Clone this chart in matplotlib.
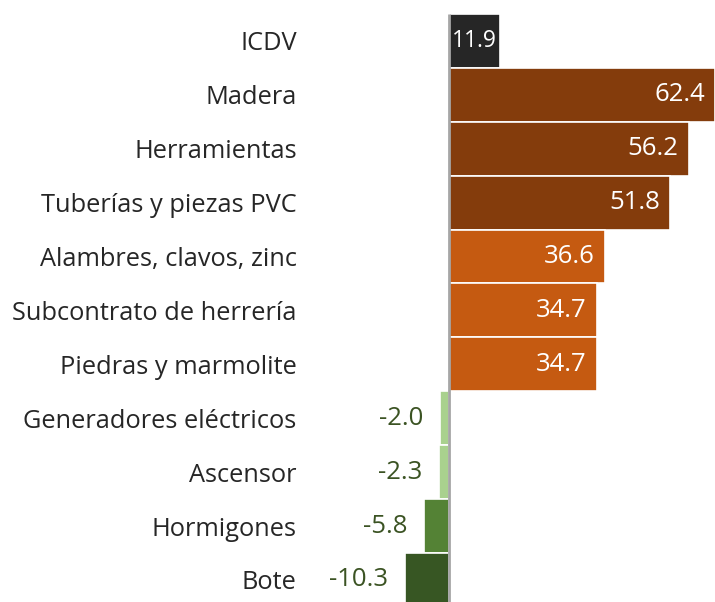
import matplotlib
matplotlib.use("Agg")
import matplotlib.pyplot as plt

categorias = ["ICDV", "Madera", "Herramientas", "Tuberías y piezas PVC",
              "Alambres, clavos, zinc", "Subcontrato de herrería",
              "Piedras y marmolite", "Generadores eléctricos", "Ascensor",
              "Hormigones", "Bote"]
valores = [11.9, 62.4, 56.2, 51.8, 36.6, 34.7, 34.7, -2.0, -2.3, -5.8, -10.3]
colores = ["#262626", "#843C0C", "#843C0C", "#843C0C", "#C55A11", "#C55A11",
           "#C55A11", "#A9D18E", "#A9D18E", "#548235", "#375623"]

plt.rcParams['font.family'] = ['Open Sans', 'DejaVu Sans']

fig = plt.figure(figsize=(7.15, 6.02), dpi=100)
ax = fig.add_axes([405 / 715, 0, 310 / 715, 1])

y = list(range(len(categorias)))
ax.barh(y, valores, height=1.0, color=colores, edgecolor="white", linewidth=1.2)
ax.vlines(0, -0.5, 10.6, color="#a6a6a6", linewidth=2, zorder=3)

ax.set_xlim(-10.3, 62.4)
ax.set_ylim(10.41, -0.76)

for yi, v in zip(y, valores):
    txt = f"{v:.1f}"
    if yi == 0:
        ax.text(v / 2, yi, txt, ha="center", va="center", color="white", fontsize=16.5)
    elif v >= 0:
        ax.annotate(txt, (v, yi), xytext=(-10, 0), textcoords="offset pixels",
                    ha="right", va="center", color="white", fontsize=18.5)
    else:
        ax.annotate(txt, (v, yi), xytext=(-17, 0), textcoords="offset pixels",
                    ha="right", va="center", color="#3B5323", fontsize=18.5)

ax.set_yticks(y)
ax.set_yticklabels(categorias, fontsize=18.3, color="#262626")
ax.tick_params(axis="y", length=0, pad=78)
ax.set_xticks([])
for s in ax.spines.values():
    s.set_visible(False)

fig.savefig("out.png", dpi=100)
